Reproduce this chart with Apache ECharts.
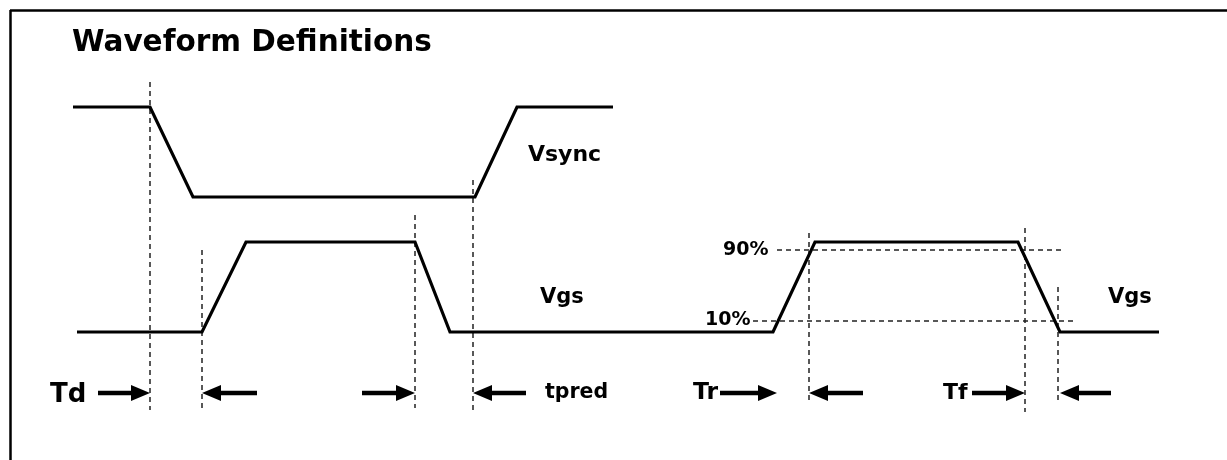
<!DOCTYPE html>
<html>
<head>
<meta charset="utf-8">
<script src="https://cdn.jsdelivr.net/npm/echarts@6/dist/echarts.min.js"></script>
<style>
  html, body { margin: 0; padding: 0; background: #fff; }
  #chart { width: 1227px; height: 460px; }
</style>
</head>
<body>
<div id="chart"></div>
<script>
// time runs left -> right, level runs top -> bottom (same units as the drawing)
const vsyncWave = [[73, 107], [150, 107], [193, 197], [475, 197], [517, 107], [613, 107]];
const vgsWave = [
  [77, 332], [202, 332], [246, 242], [415, 242], [450, 332],
  [773, 332], [815, 242], [1018, 242], [1060, 332], [1159, 332]
];

// dashed guides: [x0, y0, x1, y1]
const guides = [
  [150, 82, 150, 410],
  [202, 250, 202, 410],
  [415, 215, 415, 408],
  [473, 180, 473, 412],
  [809, 233, 809, 402],
  [1025, 228, 1025, 412],
  [1058, 287, 1058, 402],
  [777, 250, 1062, 250],
  [753, 321, 1077, 321]
];

// timing arrows: [tail x, tip x, y]
const arrows = [
  [98, 150, 393],
  [257, 202, 393],
  [362, 415, 393],
  [526, 473, 393],
  [720, 777, 393],
  [863, 809, 393],
  [972, 1025, 393],
  [1111, 1060, 393]
];

// labels: [x, y, text, font size]
const labels = [
  [72, 43, 'Waveform Definitions', 29.5],
  [528, 155, 'Vsync', 22],
  [540, 298, 'Vgs', 21],
  [1108, 298, 'Vgs', 21],
  [723, 250, '90%', 19],
  [705, 320, '10%', 19],
  [50, 395, 'Td', 26],
  [545, 393, 'tpred', 20.5],
  [693, 393, 'Tr', 23.5],
  [943, 393, 'Tf', 22]
];

const frame = [[10, 10, 1227, 10], [10, 10, 10, 460]];

const chart = echarts.init(document.getElementById('chart'));

const toLines = (arr) => arr.map((g) => ({ coords: [[g[0], g[1]], [g[2], g[3]]] }));

chart.setOption({
  animation: false,
  textStyle: { color: '#000' },
  grid: { left: 0, right: 0, top: 0, bottom: 0 },
  xAxis: { type: 'value', min: 0, max: 1227, show: false },
  yAxis: { type: 'value', min: 0, max: 460, inverse: true, show: false },
  series: [
    {
      name: 'frame',
      type: 'lines',
      coordinateSystem: 'cartesian2d',
      silent: true,
      lineStyle: { color: '#000', width: 2.5, type: 'solid', opacity: 1 },
      data: toLines(frame)
    },
    {
      name: 'guides',
      type: 'lines',
      coordinateSystem: 'cartesian2d',
      silent: true,
      lineStyle: { color: '#222', width: 1.5, type: [5, 4], opacity: 1 },
      data: toLines(guides)
    },
    {
      name: 'Vsync',
      type: 'line',
      data: vsyncWave,
      symbol: 'none',
      lineStyle: { color: '#000', width: 3.2, join: 'miter' },
      z: 5
    },
    {
      name: 'Vgs',
      type: 'line',
      data: vgsWave,
      symbol: 'none',
      lineStyle: { color: '#000', width: 3.2, join: 'miter' },
      z: 5
    },
    {
      name: 'arrows',
      type: 'custom',
      data: arrows,
      encode: { x: [0, 1], y: 2 },
      renderItem: (params, api) => {
        const y = api.value(2);
        const tail = api.coord([api.value(0), y]);
        const tip = api.coord([api.value(1), y]);
        const dir = tip[0] > tail[0] ? 1 : -1;
        const headLen = 19;
        const half = 8;
        const base = tip[0] - dir * headLen;
        return {
          type: 'group',
          children: [
            {
              type: 'line',
              shape: { x1: tail[0], y1: tail[1], x2: base + dir * 2, y2: tip[1] },
              style: { stroke: '#000', lineWidth: 4.5 }
            },
            {
              type: 'polygon',
              shape: { points: [[tip[0], tip[1]], [base, tip[1] - half], [base, tip[1] + half]] },
              style: { fill: '#000' }
            }
          ]
        };
      },
      z: 6
    },
    {
      name: 'labels',
      type: 'scatter',
      symbolSize: 0,
      silent: true,
      label: {
        show: true,
        color: '#000',
        fontFamily: 'DejaVu Sans',
        fontWeight: 'bold'
      },
      data: labels.map((l) => ({
        value: [l[0], l[1]],
        label: {
          show: true,
          formatter: l[2],
          position: [0, 0],
          align: 'left',
          verticalAlign: 'middle',
          fontFamily: 'DejaVu Sans',
          fontWeight: 'bold',
          fontSize: l[3],
          color: '#000',
          opacity: 1
        }
      })),
      z: 7
    }
  ]
});

window.addEventListener('resize', () => chart.resize());
</script>
</body>
</html>
